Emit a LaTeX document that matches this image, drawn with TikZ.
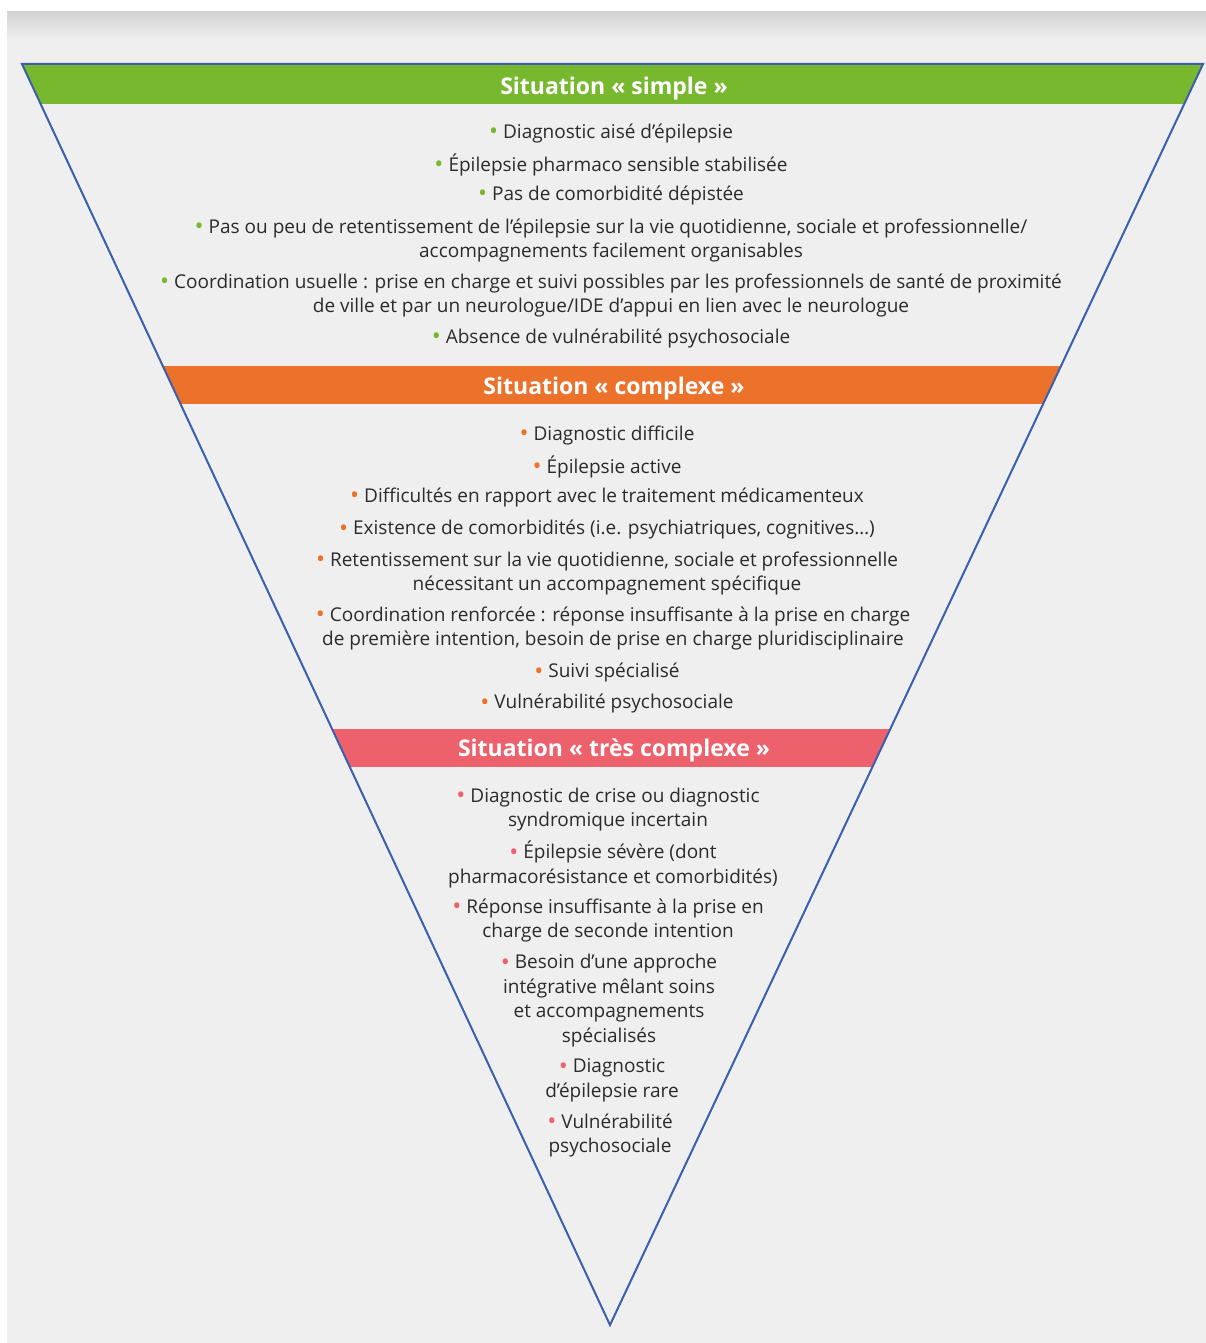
\documentclass[tikz,border=0pt]{standalone}
\usepackage{fontspec}
\setmainfont{Open Sans}
\definecolor{simplegreen}{HTML}{78B82E}
\definecolor{complexorange}{HTML}{EC722C}
\definecolor{veryred}{HTML}{EC616B}
\definecolor{edgeblue}{HTML}{3B5EAD}
\definecolor{bggray}{HTML}{EFEFEF}
\definecolor{shadowgray}{HTML}{D3D3D3}
\definecolor{textgray}{HTML}{2B2B2B}
\newcommand{\bul}[1]{{\color{#1}\fontsize{24}{24}\selectfont\raisebox{-1.5pt}{\textbullet}}\hspace{5pt}}

\begin{document}
\begin{tikzpicture}[x=1pt,y=-1pt,
  head/.style={color=white,anchor=center,yshift=-2.5pt,font=\bfseries\fontsize{23}{26}\selectfont},
  item/.style={color=textgray,anchor=center,align=center,inner sep=0pt,yshift=-2.5pt,
    font=\fontsize{19}{24.5}\selectfont}]
  \useasboundingbox (0,0) rectangle (1206,1343);
  \fill[bggray] (7,12) rectangle (1206,1343);
  \shade[top color=shadowgray,bottom color=bggray] (7,12) rectangle (1206,40);

  % bands inside the funnel
  \begin{scope}
    \clip (22,64) -- (1203,64) -- (610,1325) -- cycle;
    \fill[simplegreen] (0,64) rectangle (1206,104);
    \fill[complexorange] (0,366) rectangle (1206,404);
    \fill[veryred] (0,729) rectangle (1206,767);
  \end{scope}
  \draw[edgeblue,line width=2pt,line join=miter] (22,64) -- (1203,64) -- (610,1325) -- cycle;

  % situation simple
  \node[head] (simple) at (614,86) {Situation « simple »};
  \node[item] (s1) at (611,131) {\bul{simplegreen}Diagnostic aisé d'épilepsie};
  \node[item] (s2) at (611,162) {\bul{simplegreen}Épilepsie pharmaco sensible stabilisée};
  \node[item] (s3) at (611,193) {\bul{simplegreen}Pas de comorbidité dépistée};
  \node[item] (s4) at (611,238) {\bul{simplegreen}Pas ou peu de retentissement de l'épilepsie sur la vie quotidienne, sociale et professionnelle/\\accompagnements facilement organisables};
  \node[item] (s5) at (611,293) {\bul{simplegreen}Coordination usuelle : prise en charge et suivi possibles par les professionnels de santé de proximité\\de ville et par un neurologue/IDE d'appui en lien avec le neurologue};
  \node[item] (s6) at (611,336) {\bul{simplegreen}Absence de vulnérabilité psychosociale};

  % situation complexe
  \node[head] (complexe) at (614,386) {Situation « complexe »};
  \node[item] (c1) at (607,433) {\bul{complexorange}Diagnostic difficile};
  \node[item] (c2) at (607,464) {\bul{complexorange}Épilepsie active};
  \node[item] (c3) at (607,495) {\bul{complexorange}Difficultés en rapport avec le traitement médicamenteux};
  \node[item] (c4) at (607,527) {\bul{complexorange}Existence de comorbidités (i.e. psychiatriques, cognitives…)};
  \node[item] (c5) at (607,571) {\bul{complexorange}Retentissement sur la vie quotidienne, sociale et professionnelle\\nécessitant un accompagnement spécifique};
  \node[item] (c6) at (613,626) {\bul{complexorange}Coordination renforcée : réponse insuffisante à la prise en charge\\de première intention, besoin de prise en charge pluridisciplinaire};
  \node[item] (c7) at (607,670) {\bul{complexorange}Suivi spécialisé};
  \node[item] (c8) at (607,701) {\bul{complexorange}Vulnérabilité psychosociale};

  % situation tres complexe
  \node[head] (trescomplexe) at (614,748) {Situation « très complexe »};
  \node[item] (t1) at (608,807) {\bul{veryred}Diagnostic de crise ou diagnostic\\syndromique incertain};
  \node[item] (t2) at (613,862) {\bul{veryred}Épilepsie sévère (dont\\pharmacorésistance et comorbidités)};
  \node[item] (t3) at (608,918) {\bul{veryred}Réponse insuffisante à la prise en\\charge de seconde intention};
  \node[item] (t4) at (609,998) {\bul{veryred}Besoin d'une approche\\intégrative mêlant soins\\et accompagnements\\spécialisés};
  \node[item] (t5) at (612,1078) {\bul{veryred}Diagnostic\\d'épilepsie rare};
  \node[item] (t6) at (610,1133) {\bul{veryred}Vulnérabilité\\psychosociale};
\end{tikzpicture}
\end{document}
